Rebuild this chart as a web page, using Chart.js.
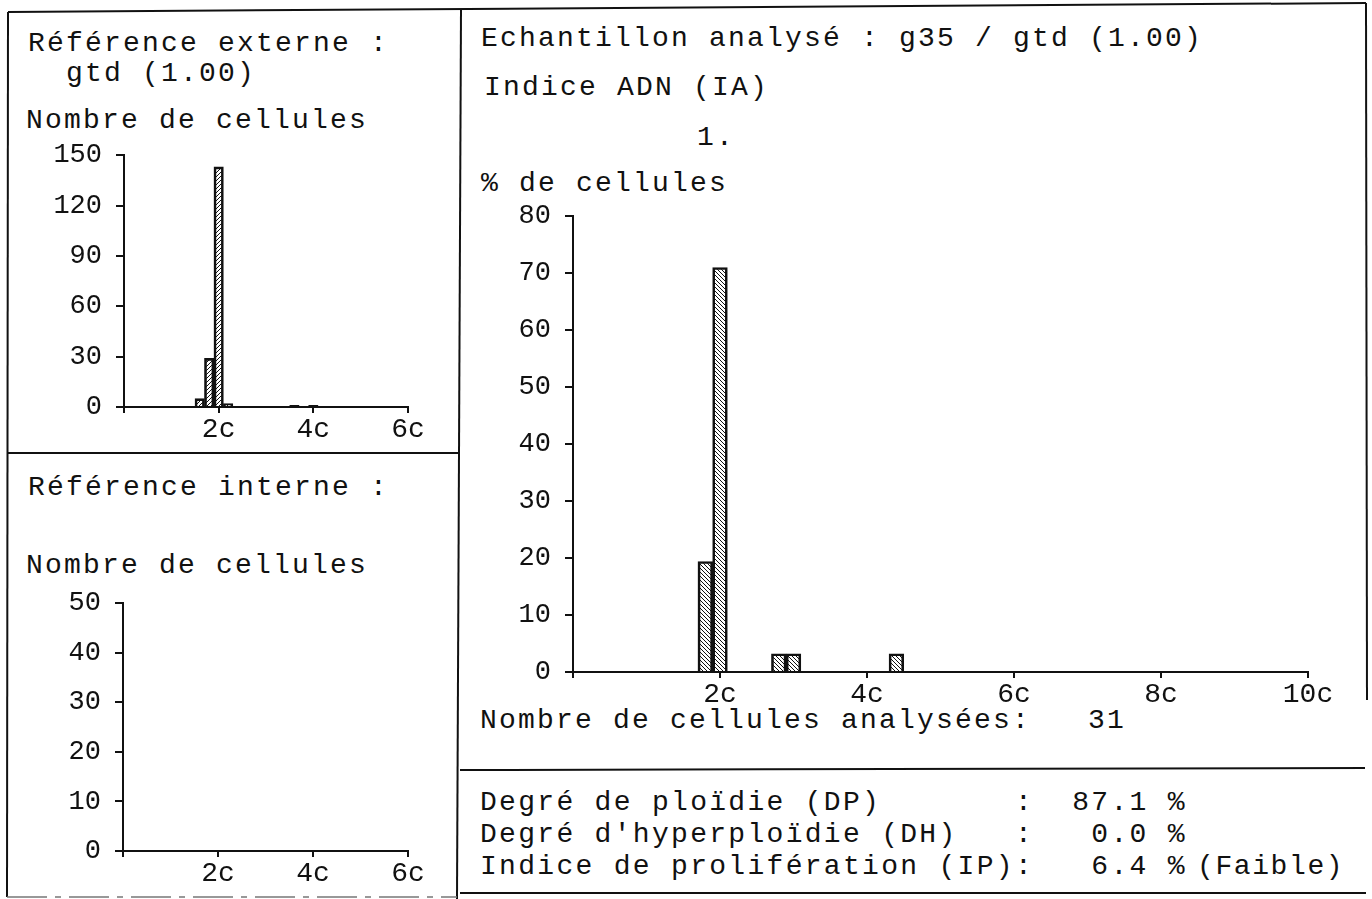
<!DOCTYPE html>
<html>
<head>
<meta charset="utf-8">
<script src="https://cdn.jsdelivr.net/npm/chart.js@4.4.1/dist/chart.umd.min.js"></script>
<style>
  html, body { margin: 0; padding: 0; background: #fff; }
  body { width: 1372px; height: 899px; position: relative; overflow: hidden; }
  .t {
    position: absolute;
    font-family: 'Liberation Mono', monospace;
    font-size: 28px;
    line-height: 28px;
    letter-spacing: 2.2px;
    white-space: pre;
    color: #111;
  }
  .stats { letter-spacing: 2.3px; }
  canvas { position: absolute; }
  svg { position: absolute; left: 0; top: 0; }
</style>
</head>
<body>
<svg width="1372" height="899">
  <g stroke="#111" stroke-width="2" fill="none">
    <line x1="8" y1="12" x2="1366" y2="3"/>
    <line x1="8" y1="12" x2="7" y2="897"/>
    <line x1="8" y1="453" x2="460" y2="453"/>
    <line x1="461" y1="10" x2="457" y2="899"/>
    <line x1="1366" y1="3" x2="1367" y2="700"/>
    <line x1="460" y1="770" x2="1365" y2="768"/>
    <line x1="460" y1="893" x2="1366" y2="893"/>
  </g>
  <line x1="7" y1="897" x2="457" y2="897" stroke="#777" stroke-width="1.5" stroke-dasharray="40 8 6 8"/>
</svg>

<div class="t" style="left:28px; top:30px;">Référence externe :</div>
<div class="t" style="left:28px; top:60px;">  gtd (1.00)</div>
<div class="t" style="left:26px; top:107px;">Nombre de cellules</div>

<div class="t" style="left:28px; top:474px;">Référence interne :</div>
<div class="t" style="left:26px; top:552px;">Nombre de cellules</div>

<div class="t" style="left:481px; top:25px;">Echantillon analysé : g35 / gtd (1.00)</div>
<div class="t" style="left:484px; top:74px;">Indice ADN (IA)</div>
<div class="t" style="left:697px; top:124px;">1.</div>
<div class="t" style="left:481px; top:170px;">% de cellules</div>
<div class="t" style="left:480px; top:707px;">Nombre de cellules analysées:   31</div>

<div class="t stats" style="left:480px; top:789px;">Degré de ploïdie (DP)       :  87.1 %</div>
<div class="t stats" style="left:480px; top:821px;">Degré d'hyperploïdie (DH)   :   0.0 %</div>
<div class="t stats" style="left:480px; top:853px;">Indice de prolifération (IP):   6.4 %</div>
<div class="t stats" style="left:1197px; top:853px; letter-spacing:1.6px;">(Faible)</div>

<canvas id="extChart" style="left:20px; top:125px;" width="430" height="320"></canvas>
<canvas id="intChart" style="left:20px; top:573px;" width="430" height="316"></canvas>
<canvas id="sampleChart" style="left:470px; top:186px;" width="880" height="526"></canvas>

<script>
// Référence externe : histogramme (nombre de cellules par classe de 0.2 c)
const extBins = [1.6, 1.8, 2.0, 2.2, 3.6, 4.0];
const extCounts = [5, 29, 143, 2, 1, 1];
const extYMax = 150;
const extYStep = 30;

// Référence interne : vide
const intBins = [];
const intCounts = [];
const intYMax = 50;
const intYStep = 10;

// Echantillon analysé (% de cellules)
const sampleBins = [1.8, 2.0, 2.8, 3.0, 4.4];
const samplePct = [19.4, 71.0, 3.2, 3.2, 3.2];
const sampleYMax = 80;
const sampleYStep = 10;

const refXTicks = ['', '2c', '4c', '6c'];
const sampleXTicks = ['', '2c', '4c', '6c', '8c', '10c'];

Chart.defaults.font.family = "'Liberation Mono', monospace";
Chart.defaults.color = '#111';
Chart.defaults.animation = false;

function hatch(forward) {
    const c = document.createElement('canvas');
    c.width = 4;
    c.height = 4;
    const g = c.getContext('2d');
    g.strokeStyle = '#111';
    g.lineWidth = 1;
    g.beginPath();
    if (forward) {
        g.moveTo(0, 4); g.lineTo(4, 0);
        g.moveTo(-1, 1); g.lineTo(1, -1);
        g.moveTo(3, 5); g.lineTo(5, 3);
    } else {
        g.moveTo(0, 0); g.lineTo(4, 4);
        g.moveTo(-1, 3); g.lineTo(1, 5);
        g.moveTo(3, -1); g.lineTo(5, 1);
    }
    g.stroke();
    return g.createPattern(c, 'repeat');
}

function histogram(id, bins, values, opts) {
    const ctx = document.getElementById(id).getContext('2d');
    return new Chart(ctx, {
        type: 'bar',
        data: {
            datasets: [{
                data: bins.map((b, i) => ({ x: b, y: values[i] })),
                backgroundColor: hatch(opts.forward),
                borderColor: '#111',
                borderWidth: 2,
                categoryPercentage: 1,
                barPercentage: 1
            }]
        },
        options: {
            responsive: false,
            maintainAspectRatio: false,
            layout: { padding: { top: opts.padTop, right: opts.padRight, left: 0, bottom: 0 } },
            plugins: { legend: { display: false }, tooltip: { enabled: false } },
            scales: {
                x: {
                    type: 'linear',
                    min: 0,
                    max: opts.xMax,
                    offset: false,
                    grid: { display: true, offset: false, drawOnChartArea: false, drawTicks: true, tickLength: 6, color: '#111', lineWidth: 2 },
                    border: { display: true, color: '#111', width: 2 },
                    ticks: {
                        stepSize: 2,
                        maxRotation: 0,
                        padding: 0,
                        font: { size: 28 },
                        callback: (v, i) => opts.xTicks[i]
                    },
                    afterFit: s => { s.height = opts.xHeight; }
                },
                y: {
                    min: 0,
                    max: opts.yMax,
                    grid: { display: true, drawOnChartArea: false, drawTicks: true, tickLength: 8, color: '#111', lineWidth: 2 },
                    border: { display: true, color: '#111', width: 2 },
                    ticks: { stepSize: opts.yStep, padding: 14, font: { size: 27 } },
                    afterFit: s => { s.width = opts.yWidth; }
                }
            }
        }
    });
}

histogram('extChart', extBins, extCounts, {
    forward: true, xMax: 6, xTicks: refXTicks, yMax: extYMax, yStep: extYStep,
    padTop: 19, padRight: 42, xHeight: 38, yWidth: 104
});
histogram('intChart', intBins, intCounts, {
    forward: true, xMax: 6, xTicks: refXTicks, yMax: intYMax, yStep: intYStep,
    padTop: 19, padRight: 42, xHeight: 38, yWidth: 103
});
histogram('sampleChart', sampleBins, samplePct, {
    forward: false, xMax: 10, xTicks: sampleXTicks, yMax: sampleYMax, yStep: sampleYStep,
    padTop: 18, padRight: 42, xHeight: 40, yWidth: 103
});
</script>
</body>
</html>
